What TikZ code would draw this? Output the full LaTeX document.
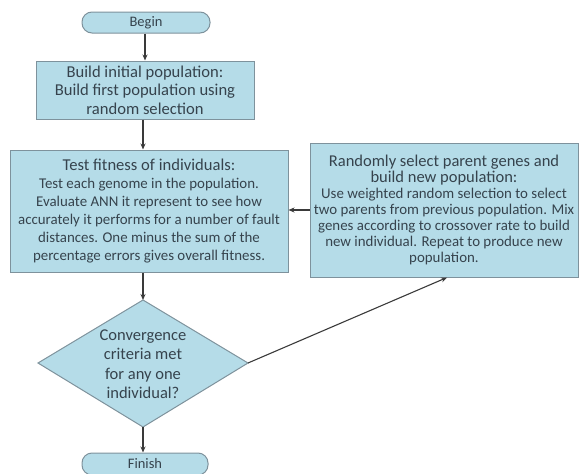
\documentclass[tikz,border=0pt]{standalone}
\usepackage{fontspec}
\setmainfont{Carlito}
\usetikzlibrary{arrows.meta}
\definecolor{boxfill}{HTML}{B5DCE8}
\definecolor{boxline}{HTML}{7E929C}
\definecolor{txt}{HTML}{36434D}
\definecolor{arr}{HTML}{3A3A3A}
\tikzset{
  box/.style={draw=boxline, fill=boxfill, line width=1pt, text=txt, align=center, inner sep=0pt},
  term/.style={box, rounded corners=10pt},
  conn/.style={draw=arr, line width=1.1pt, -{Stealth[length=6pt,width=5pt]}},
}
\newcommand{\hd}{\fontsize{16.6}{18.5}\selectfont}
\newcommand{\hdt}{\fontsize{16.6}{19}\selectfont}
\newcommand{\hdr}{\fontsize{16.5}{16}\selectfont}
\newcommand{\bd}{\fontsize{14.9}{18}\selectfont}
\newcommand{\bdr}{\fontsize{14.9}{16}\selectfont}
\begin{document}
\begin{tikzpicture}[x=1pt,y=-1pt]
\useasboundingbox (0,0) rectangle (579,474);
\node[term, minimum width=128pt, minimum height=21pt, font=\fontsize{14.5}{16}\selectfont] (begin) at (146,22.5) {Begin};
\node[box, minimum width=218pt, minimum height=58pt, font=\hd] (build) at (145,90)
  {Build initial population:\\ Build first population using\\ random selection};
\node[box, minimum width=278pt, minimum height=122pt, font=\bd] (test) at (149,211)
  {\hdt Test fitness of individuals:\\ Test each genome in the population.\\ Evaluate ANN it represent to see how\\ accurately it performs for a number of fault\\ distances. One minus the sum of the\\ percentage errors gives overall fitness.};
\node[box, minimum width=268pt, minimum height=134pt, font=\bdr] (select) at (444,210)
  {\hdr Randomly select parent genes and\\ \hdr build new population:\\ Use weighted random selection to select\\ two parents from previous population. Mix\\ genes according to crossover rate to build\\ new individual. Repeat to produce new\\ population.};
\coordinate (dtop) at (143,300);
\coordinate (dright) at (248,363);
\coordinate (dbot) at (143,427);
\coordinate (dleft) at (38,363);
\draw[draw=boxline, fill=boxfill, line width=1pt] (dtop) -- (dright) -- (dbot) -- (dleft) -- cycle;
\node[text=txt, align=center, inner sep=0pt, font=\fontsize{16.5}{19.5}\selectfont] (conv) at (143,364)
  {Convergence\\ criteria met\\ for any one\\ individual?};
\node[term, minimum width=126pt, minimum height=22pt, font=\fontsize{14.5}{16}\selectfont] (finish) at (145,464) {Finish};
\draw[conn] (begin.south -| build.north) -- (build.north);
\draw[conn] (build.south -| dtop) -- (test.north -| dtop);
\draw[conn] (test.south -| dtop) -- (dtop);
\draw[conn] (dbot) -- (finish.north -| dbot);
\draw[conn] (select.west) -- (select.west -| test.east);
\draw[conn] (dright) -- ([xshift=3pt]select.south);
\end{tikzpicture}
\end{document}
